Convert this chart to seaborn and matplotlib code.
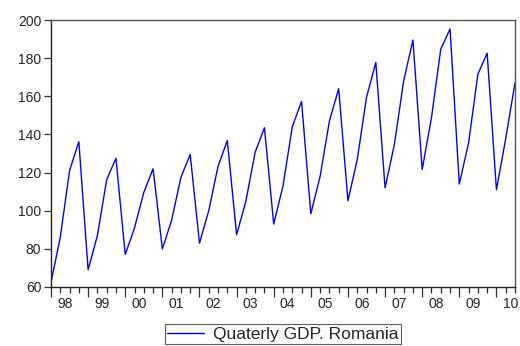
import numpy as np
import pandas as pd
import seaborn as sns
from matplotlib import pyplot as plt
from matplotlib.ticker import FixedLocator

# quarterly values 1998Q1 .. 2010Q3
quarters = ["%dQ%d" % (y, q) for y in range(1998, 2011) for q in range(1, 5)][:51]
gdp = [62.5, 86, 121, 136.2,
       69, 87, 116.3, 127.5,
       77, 91, 109.6, 122,
       80, 95, 117.5, 129.5,
       83, 100, 123.3, 136.8,
       87.4, 105, 130.7, 143.5,
       93, 113, 144, 157.3,
       98.4, 118, 147, 164,
       105.2, 126.8, 159.5, 177.7,
       112, 134.7, 168, 189.5,
       121.6, 148.8, 184.7, 195.3,
       114, 135.6, 171.6, 182.6,
       111, 137.8, 167]
year_labels = ["98", "99", "00", "01", "02", "03", "04", "05", "06", "07", "08", "09", "10"]
y_ticks = [60, 80, 100, 120, 140, 160, 180, 200]


def main():
    sns.set_style("white")
    plt.rcParams['font.family'] = ['Liberation Sans', 'DejaVu Sans']

    df = pd.DataFrame({"t": np.arange(len(gdp)), "gdp": gdp, "quarter": quarters})

    fig = plt.figure(figsize=(5.2, 3.46), dpi=100)
    ax = fig.add_axes([51 / 520, 1 - 287 / 346, 464 / 520, 267 / 346])
    sns.lineplot(data=df, x="t", y="gdp", color="#0000ff", linewidth=1.0, ax=ax,
                 label="Quaterly GDP. Romania", legend=False)

    ax.set_xlim(0, len(gdp) - 1)
    ax.set_ylim(60, 200)
    ax.set_yticks(y_ticks)
    ax.set_yticklabels([str(v) for v in y_ticks], fontsize=10)
    ax.set_xlabel("")
    ax.set_ylabel("")

    # year start ticks (major), quarter ticks (minor), year labels on a secondary axis
    ax.set_xticks(list(range(0, len(gdp), 4)))
    ax.set_xticklabels([])
    ax.xaxis.set_minor_locator(FixedLocator(df["t"].tolist()))
    ax.tick_params(axis="x", which="major", bottom=True, length=7, width=0.9,
                   color="#333333", direction="out")
    ax.tick_params(axis="x", which="minor", bottom=True, length=4, width=0.9,
                   color="#333333", direction="out")
    ax.tick_params(axis="y", left=True, length=5, width=0.9, color="#333333",
                   direction="out", pad=2)

    sec = ax.secondary_xaxis("bottom")
    sec.set_xticks([1.5 + 4 * i for i in range(len(year_labels))])
    sec.set_xticklabels(year_labels, fontsize=10)
    sec.tick_params(length=0, pad=7)
    sec.spines["bottom"].set_visible(False)

    for s in ["left", "bottom"]:
        ax.spines[s].set_color("#222222")
        ax.spines[s].set_linewidth(1.0)
    for s in ["top", "right"]:
        ax.spines[s].set_color("#555555")
        ax.spines[s].set_linewidth(1.0)

    handles, labels = ax.get_legend_handles_labels()
    leg = fig.legend(handles, labels, loc="upper center", bbox_to_anchor=(283 / 520, 1 - 324 / 346),
                     frameon=True, fancybox=False, fontsize=12.5, handlelength=2.1,
                     borderpad=0.15, handletextpad=0.55, borderaxespad=0)
    leg.get_frame().set_edgecolor("#333333")
    leg.get_frame().set_linewidth(0.8)

    fig.savefig("out.png", dpi=100)


if __name__ == "__main__":
    main()
